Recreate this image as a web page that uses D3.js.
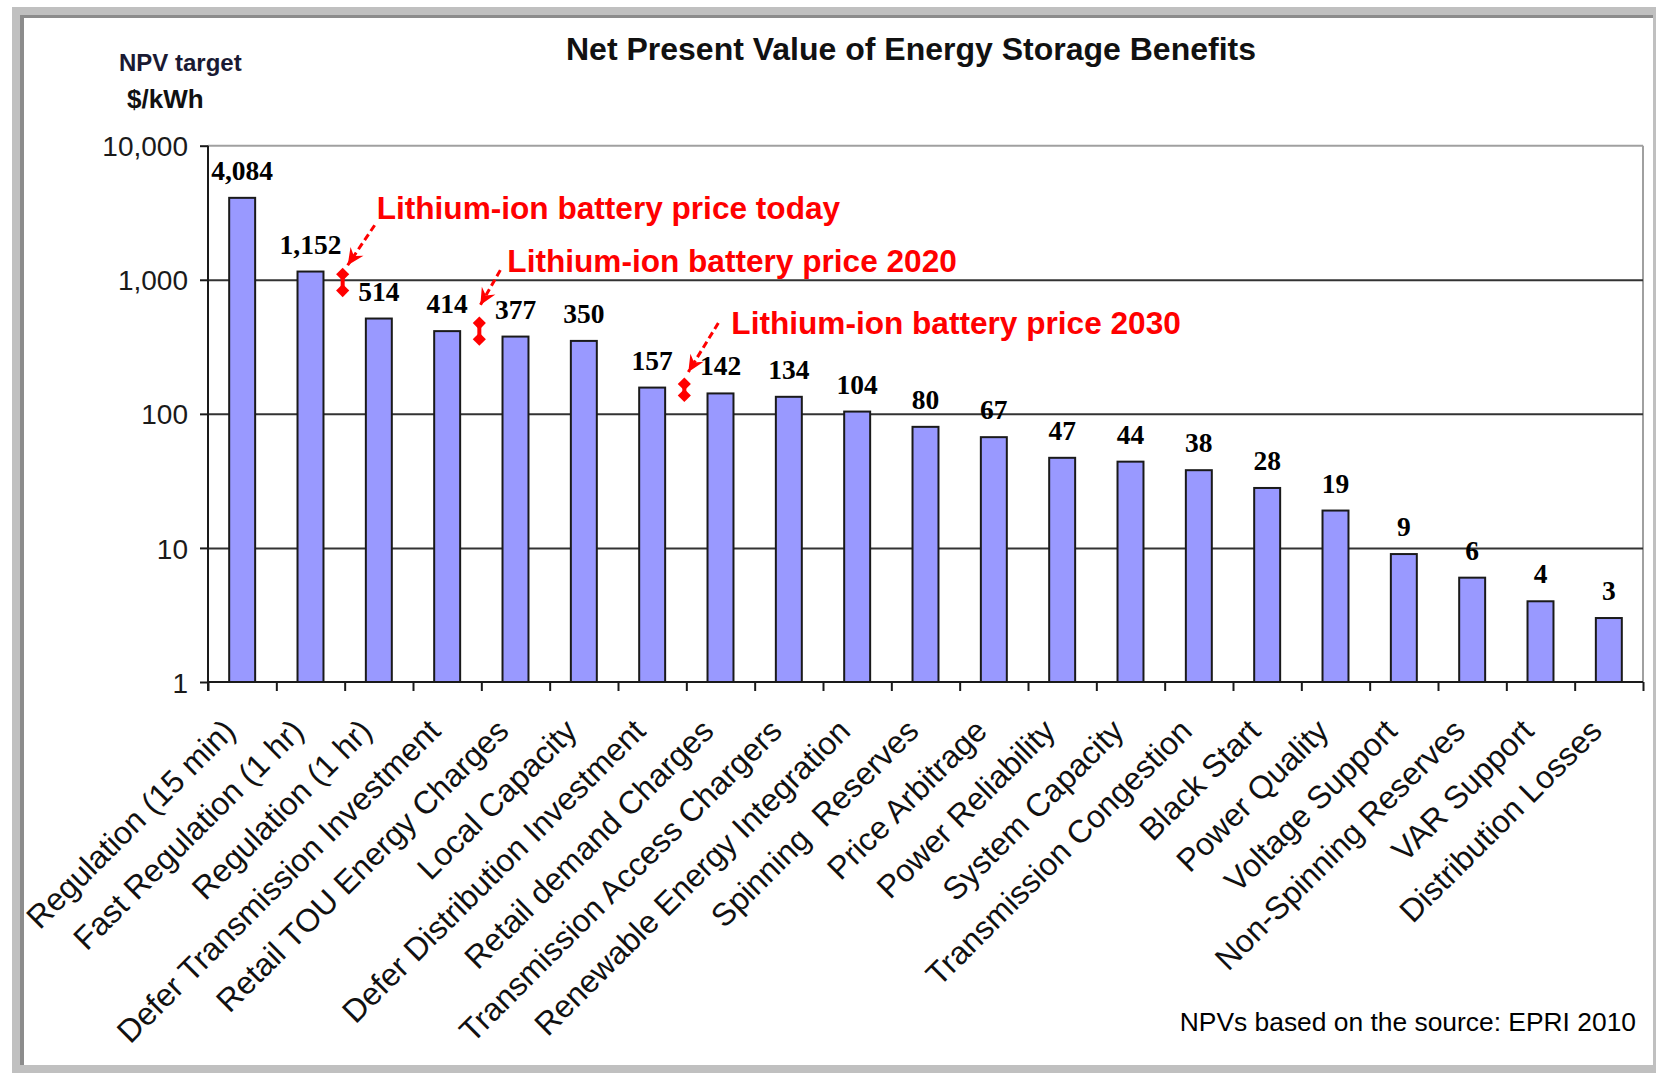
<!DOCTYPE html>
<html>
<head>
<meta charset="utf-8">
<script src="https://cdn.jsdelivr.net/npm/d3@7"></script>
<style>
  html, body { margin: 0; padding: 0; background: #ffffff; }
  svg { display: block; }
</style>
</head>
<body>
<svg id="chart" width="1656" height="1073"></svg>
<script>
// ---------- data ----------
const categories = [
  "Regulation (15 min)", "Fast Regulation (1 hr)", "Regulation (1 hr)",
  "Defer Transmission Investment", "Retail TOU Energy Charges", "Local Capacity",
  "Defer Distribution Investment", "Retail demand Charges", "Transmission Access Chargers",
  "Renewable Energy Integration", "Spinning  Reserves", "Price Arbitrage",
  "Power Reliability", "System Capacity", "Transmission Congestion",
  "Black Start", "Power Quality", "Voltage Support",
  "Non-Spinning Reserves", "VAR Support", "Distribution Losses"
];
const values = [4084, 1152, 514, 414, 377, 350, 157, 142, 134, 104, 80, 67, 47, 44, 38, 28, 19, 9, 6, 4, 3];
const yTicks = [1, 10, 100, 1000, 10000];

const priceLabels = ["Lithium-ion battery price today", "Lithium-ion battery price 2020", "Lithium-ion battery price 2030"];
const priceBoundary = [2, 4, 7];      // category boundary where the range marker sits
const priceLow = [830, 360, 137];
const priceHigh = [1100, 475, 167];

const titleText = "Net Present Value of Energy Storage Benefits";
const yTitle1 = "NPV target";
const yTitle2 = "$/kWh";
const sourceText = "NPVs based on the source: EPRI 2010";

// ---------- layout ----------
const W = 1656, H = 1073;
const plot = { left: 208, right: 1643, top: 145.7, bottom: 682 };

const svg = d3.select("#chart");

// frame
svg.append("rect").attr("x", 0).attr("y", 0).attr("width", W).attr("height", H).attr("fill", "#ffffff");
svg.append("rect").attr("x", 12).attr("y", 7).attr("width", W - 12).attr("height", H - 7).attr("fill", "#c0c0c0");
svg.append("rect").attr("x", 20).attr("y", 15).attr("width", 1633).attr("height", 1050).attr("fill", "#8c8c8c");
svg.append("rect").attr("x", 24).attr("y", 18).attr("width", 1629).attr("height", 1047).attr("fill", "#ffffff");

// scales
const x = d3.scaleBand().domain(categories).range([plot.left, plot.right]).paddingInner(0.62).paddingOuter(0.31);
const xb = d3.scaleLinear().domain([0, categories.length]).range([plot.left, plot.right]);
const y = d3.scaleLog().domain([1, 10000]).range([plot.bottom, plot.top]);

// plot border (top / right)
svg.append("line").attr("x1", plot.left).attr("x2", plot.right).attr("y1", plot.top).attr("y2", plot.top)
  .attr("stroke", "#a0a0a0").attr("stroke-width", 2);
svg.append("line").attr("x1", plot.right).attr("x2", plot.right).attr("y1", plot.top).attr("y2", plot.bottom)
  .attr("stroke", "#a0a0a0").attr("stroke-width", 2);

// gridlines
const grid = svg.append("g").attr("transform", `translate(${plot.left},0)`)
  .call(d3.axisLeft(y).tickValues(yTicks.filter(d => d > 1 && d < 10000)).tickSize(-(plot.right - plot.left)).tickFormat(""));
grid.select(".domain").remove();
grid.selectAll(".tick line").attr("stroke", "#333333").attr("stroke-width", 2);

// bars
svg.append("g").selectAll("rect").data(values).join("rect")
  .attr("x", (d, i) => x(categories[i]))
  .attr("width", x.bandwidth())
  .attr("y", d => y(d))
  .attr("height", d => y(1) - y(d))
  .attr("fill", "#9999ff")
  .attr("stroke", "#1a1a1a")
  .attr("stroke-width", 2);

// value labels
const fmt = d3.format(",");
svg.append("g").selectAll("text").data(values).join("text")
  .attr("x", (d, i) => x(categories[i]) + x.bandwidth() / 2)
  .attr("y", d => y(d) - 18)
  .attr("text-anchor", "middle")
  .attr("font-family", "'Liberation Serif', 'Times New Roman', serif")
  .attr("font-weight", "bold")
  .attr("font-size", 27.5)
  .attr("fill", "#000")
  .text(d => fmt(d));

// y axis
const yAxis = svg.append("g").attr("transform", `translate(${plot.left},0)`)
  .call(d3.axisLeft(y).tickValues(yTicks).tickSize(8).tickPadding(12).tickFormat(fmt));
yAxis.select(".domain").attr("stroke", "#1a1a1a").attr("stroke-width", 2).attr("d", `M0,${plot.top}V${plot.bottom + 9}`);
yAxis.selectAll(".tick line").attr("stroke", "#1a1a1a").attr("stroke-width", 2);
yAxis.selectAll(".tick text")
  .attr("font-family", "'Liberation Sans', Arial, sans-serif")
  .attr("font-size", 28).attr("fill", "#1a1a1a").attr("dy", "0.36em");

// x axis (boundary ticks)
const xAxis = svg.append("g").attr("transform", `translate(0,${plot.bottom})`)
  .call(d3.axisBottom(xb).tickValues(d3.range(categories.length + 1)).tickSize(9).tickFormat(""));
xAxis.select(".domain").attr("stroke", "#1a1a1a").attr("stroke-width", 2).attr("d", `M${plot.left},0H${plot.right}`);
xAxis.selectAll(".tick line").attr("stroke", "#1a1a1a").attr("stroke-width", 2);

// category labels
svg.append("g").selectAll("text").data(categories).join("text")
  .attr("transform", d => `translate(${x(d) + x.bandwidth() / 2 - 5},733) rotate(-45)`)
  .attr("text-anchor", "end")
  .attr("font-family", "'Liberation Sans', Arial, sans-serif")
  .attr("font-size", 32)
  .attr("fill", "#111")
  .attr("xml:space", "preserve")
  .style("white-space", "pre")
  .text(d => d);

// titles
svg.append("text").attr("x", 911).attr("y", 60).attr("text-anchor", "middle")
  .attr("font-family", "'Liberation Sans', Arial, sans-serif").attr("font-weight", "bold")
  .attr("font-size", 32).attr("fill", "#111").text(titleText);
svg.append("text").attr("x", 119).attr("y", 71)
  .attr("font-family", "'Liberation Sans', Arial, sans-serif").attr("font-weight", "bold")
  .attr("font-size", 24).attr("fill", "#1a1a33").text(yTitle1);
svg.append("text").attr("x", 127).attr("y", 108)
  .attr("font-family", "'Liberation Sans', Arial, sans-serif").attr("font-weight", "bold")
  .attr("font-size", 26).attr("fill", "#111").text(yTitle2);
svg.append("text").attr("x", 1636).attr("y", 1031).attr("text-anchor", "end")
  .attr("font-family", "'Liberation Sans', Arial, sans-serif")
  .attr("font-size", 26.4).attr("fill", "#000").text(sourceText);

// ---------- price annotations ----------
const red = "#ff0000";
const defs = svg.append("defs");
defs.append("marker").attr("id", "arrowhead")
  .attr("markerUnits", "userSpaceOnUse").attr("markerWidth", 20).attr("markerHeight", 20)
  .attr("viewBox", "-16 -8 18 16").attr("refX", 0).attr("refY", 0).attr("orient", "auto")
  .append("path").attr("d", "M0,0 L-15,-7 L-10,0 L-15,7 Z").attr("fill", red);

// layout offsets of each annotation (tip offset from marker top, arrow tail and label offset from tip)
const tipOffset = [[5, -9], [1, -18], [4, -12]];
const tailOffset = [[27, -40], [20, -35], [30, -49]];
const labelOffset = [[29, -46], [27, -33], [43, -38]];

const ann = svg.append("g");
priceLabels.forEach((label, i) => {
  const mx = xb(priceBoundary[i]) - 2;
  const yHi = y(priceHigh[i]);
  const yLo = y(priceLow[i]);
  const g = ann.append("g");
  g.append("line").attr("x1", mx).attr("x2", mx).attr("y1", yHi).attr("y2", yLo)
    .attr("stroke", red).attr("stroke-width", 4);
  [yHi, yLo].forEach(yy => {
    g.append("path").attr("d", d3.symbol(d3.symbolDiamond2, 110)())
      .attr("transform", `translate(${mx},${yy})`)
      .attr("fill", red);
  });
  const tipX = mx + tipOffset[i][0], tipY = yHi + tipOffset[i][1];
  g.append("line")
    .attr("x1", tipX + tailOffset[i][0]).attr("y1", tipY + tailOffset[i][1])
    .attr("x2", tipX).attr("y2", tipY)
    .attr("stroke", red).attr("stroke-width", 3).attr("stroke-dasharray", "7,4")
    .attr("marker-end", "url(#arrowhead)");
  g.append("text")
    .attr("x", tipX + labelOffset[i][0]).attr("y", tipY + labelOffset[i][1])
    .attr("font-family", "'Liberation Sans', Arial, sans-serif").attr("font-weight", "bold")
    .attr("font-size", 31.6).attr("fill", red).text(label);
});
</script>
</body>
</html>
